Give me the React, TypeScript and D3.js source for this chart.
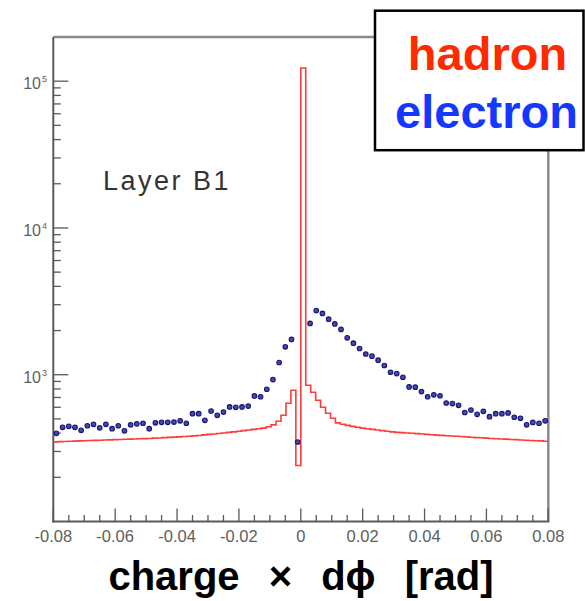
import React from "react";
import * as d3 from "d3";

const W = 585;
const H = 601;

// x axis: charge × dϕ in rad
const X_MIN = -0.08;
const X_MAX = 0.08;
const xTickValues = [-0.08, -0.06, -0.04, -0.02, 0, 0.02, 0.04, 0.06, 0.08];
const xTickLabels = ["-0.08", "-0.06", "-0.04", "-0.02", "0", "0.02", "0.04", "0.06", "0.08"];

// y axis: log scale, labelled decades
const Y_MIN = 100;
const Y_MAX = 2e5;
const yDecades = [3, 4, 5];

// hadron histogram, 100 bins of 0.0016 rad
const hadronCounts = [
  349, 350, 351, 352, 353, 354, 355, 356, 357, 358,
  359, 360, 361, 362, 363, 364, 365, 366, 367, 368,
  370, 371, 373, 374, 376, 377, 379, 381, 383, 385,
  389, 392, 395, 398, 401, 405, 408, 412, 416, 420,
  424, 428, 433, 442, 455, 482, 529, 639, 783, 241,
  123000, 847, 760, 670, 600, 547, 505, 470, 460, 452,
  445, 439, 433, 428, 424, 420, 416, 412, 408, 405,
  403, 401, 399, 397, 395, 392, 390, 388, 386, 384,
  382, 381, 379, 377, 375, 373, 372, 370, 368, 366,
  365, 364, 362, 361, 359, 358, 356, 355, 354, 352,
];

// electron entries, 80 bins of 0.002 rad (bin 40 has no visible marker)
const electronCounts: (number | null)[] = [
  399, 438, 445, 438, 418, 449, 459, 435, 459, 429,
  449, 415, 456, 463, 467, 429, 470, 474, 474, 476,
  485, 467, 543, 543, 489, 566, 529, 557, 603, 600,
  603, 612, 717, 708, 796, 927, 1211, 1548, 1739, 348,
  null, 2236, 2735, 2617, 2392, 2218, 2035, 1783, 1641, 1509,
  1384, 1337, 1256, 1156, 1040, 1019, 961, 826, 822, 768,
  708, 730, 719, 642, 636, 619, 553, 575, 537, 563,
  518, 543, 543, 549, 513, 505, 456, 473, 467, 485,
];

const AXIS_FONT = "'Liberation Sans', Arial, Helvetica, sans-serif";

export default function App() {
  const plot = { left: 53.3, right: 548.3, top: 37, bottom: 521.5 };

  const x = d3.scaleLinear().domain([X_MIN, X_MAX]).range([plot.left, plot.right]);
  const y = d3.scaleLog().domain([Y_MIN, Y_MAX]).range([plot.bottom, plot.top]);

  // step outline for the hadron histogram
  const hW = (X_MAX - X_MIN) / hadronCounts.length;
  const hPoints: [number, number][] = hadronCounts.map((v, i) => [X_MIN + i * hW, v]);
  hPoints.push([X_MAX, hadronCounts[hadronCounts.length - 1]]);
  const hadronPath = d3
    .line<[number, number]>()
    .x((d) => x(d[0]))
    .y((d) => y(d[1]))
    .curve(d3.curveStepAfter)(hPoints) as string;

  const eW = (X_MAX - X_MIN) / electronCounts.length;
  const electronPoints = electronCounts
    .map((v, i) => ({ c: X_MIN + (i + 0.5) * eW, v }))
    .filter((d) => d.v !== null) as { c: number; v: number }[];

  const xMinor = x.ticks(32);
  const yMinor: number[] = [];
  for (let d = 2; d <= 5; d++) {
    for (let m = 2; m <= 9; m++) {
      const v = m * Math.pow(10, d);
      if (v < Y_MAX) yMinor.push(v);
    }
  }

  const axisColor = "#5a5a5a";

  return (
    <div style={{ position: "absolute", left: 0, top: 0 }}>
      <svg width={W} height={H} viewBox={`0 0 ${W} ${H}`} style={{ display: "block", background: "#fff" }}>
        {/* frame */}
        <line x1={plot.left} x2={plot.right} y1={plot.top} y2={plot.top} stroke="#8a8a8a" strokeWidth={2.5} />
        <line x1={plot.right} x2={plot.right} y1={plot.top} y2={plot.bottom} stroke="#8a8a8a" strokeWidth={2.5} />
        <line x1={plot.left} x2={plot.left} y1={plot.top} y2={plot.bottom + 1} stroke={axisColor} strokeWidth={2} />
        <line x1={plot.left - 1} x2={plot.right + 1} y1={plot.bottom} y2={plot.bottom} stroke={axisColor} strokeWidth={2} />

        {/* x ticks */}
        {xMinor.map((t, i) => {
          const major = xTickValues.some((m) => Math.abs(m - t) < 1e-9);
          return (
            <line key={`xm${i}`} x1={x(t)} x2={x(t)} y1={plot.bottom} y2={plot.bottom - (major ? 13 : 6.5)} stroke={axisColor} strokeWidth={1.3} />
          );
        })}
        {xTickValues.map((t, i) => (
          <text key={`xl${i}`} x={x(t)} y={542} textAnchor="middle" fontFamily={AXIS_FONT} fontSize={16.5} fill="#5e5e5e">
            {xTickLabels[i]}
          </text>
        ))}

        {/* y ticks */}
        {yMinor.map((v, i) => (
          <line key={`ym${i}`} x1={plot.left} x2={plot.left + 7.5} y1={y(v)} y2={y(v)} stroke={axisColor} strokeWidth={1.3} />
        ))}
        {yDecades.map((d) => (
          <g key={`yd${d}`}>
            <line x1={plot.left} x2={plot.left + 15} y1={y(Math.pow(10, d))} y2={y(Math.pow(10, d))} stroke={axisColor} strokeWidth={1.3} />
            <text x={41} y={y(Math.pow(10, d)) + 8} textAnchor="end" fontFamily={AXIS_FONT} fontSize={16} fill="#5e5e5e">
              10
            </text>
            <text x={42} y={y(Math.pow(10, d)) + 1} textAnchor="start" fontFamily={AXIS_FONT} fontSize={9} fill="#5e5e5e">
              {d}
            </text>
          </g>
        ))}

        {/* hadron histogram */}
        <path d={hadronPath} fill="none" stroke="#ff3b3b" strokeWidth={1.6} />

        {/* electron markers */}
        {electronPoints.map((p, i) => (
          <circle key={`e${i}`} cx={x(p.c)} cy={y(p.v)} r={2.3} fill="#4a4aa6" stroke="#16167a" strokeWidth={1.1} />
        ))}

        {/* panel label */}
        <text x={103} y={190} fontFamily={AXIS_FONT} fontSize={27} letterSpacing={2.5} fill="#333">
          Layer B1
        </text>

        {/* legend */}
        <rect x={375} y={10.7} width={208.5} height={139.5} fill="#fff" stroke="#000" strokeWidth={2.5} />
        <text x={487.5} y={70} textAnchor="middle" fontFamily={AXIS_FONT} fontWeight="bold" fontSize={47} fill="#ff2a00">
          hadron
        </text>
        <text x={486.5} y={128} textAnchor="middle" fontFamily={AXIS_FONT} fontWeight="bold" fontSize={47} fill="#1438ff">
          electron
        </text>

        {/* x axis title */}
        <text x={301} y={590} textAnchor="middle" fontFamily={AXIS_FONT} fontWeight="bold" fontSize={40} wordSpacing={18} fill="#000">
          charge × dϕ [rad]
        </text>
      </svg>
    </div>
  );
}
